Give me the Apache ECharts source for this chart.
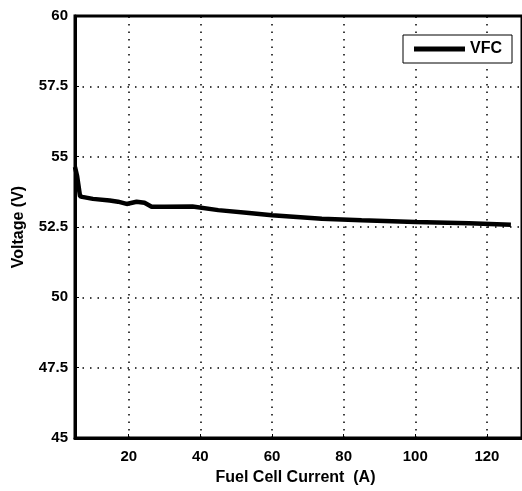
<!DOCTYPE html>
<html lang="en">
<head>
    <meta charset="utf-8">
    <script src="https://cdn.jsdelivr.net/npm/echarts@6/dist/echarts.min.js"></script>
    <style>
        html, body { margin: 0; padding: 0; background: #fff; }
        #chart { width: 522px; height: 491px; }
    </style>
</head>
<body>
<div id="chart"></div>
<script>
    // fuel cell current (A) and stack voltage (V)
    var current = [5, 5.6, 6.4, 7, 10, 14.7, 17, 19.4, 22.2, 24.4, 26.4, 30, 37.8, 45, 53.6, 60, 73.9, 85, 100, 115, 126.7];
    var voltage = [54.63, 54.3, 53.6, 53.57, 53.5, 53.44, 53.4, 53.32, 53.4, 53.36, 53.22, 53.22, 53.23, 53.1, 53.0, 52.92, 52.79, 52.74, 52.68, 52.63, 52.58];
    var xTicks = [20, 40, 60, 80, 100, 120];
    var seriesName = 'VFC';

    var pts = [];
    for (var i = 0; i < current.length; i++) {
        pts.push([current[i], voltage[i]]);
    }
    // vertical dotted grid at the x ticks (x axis starts at 5, not on a tick)
    var vGrid = xTicks.map(function (t) { return { xAxis: t }; });

    var font = 'Liberation Sans, Arial, sans-serif';
    var dotted = { color: '#000', width: 1.5, type: [1.5, 6] };
    var chart = echarts.init(document.getElementById('chart'));

    chart.setOption({
        animation: false,
        grid: {
            left: 75,
            top: 16,
            width: 449,   // right border falls just outside the picture, like the source
            height: 425,
            show: true,
            borderColor: '#000',
            borderWidth: 3
        },
        legend: {
            left: 403,
            top: 35,
            backgroundColor: '#fff',
            borderColor: '#000',
            borderWidth: 1,
            padding: [6, 10, 6, 11],
            itemWidth: 51,
            itemHeight: 5,
            icon: 'rect',
            data: [{ name: seriesName, itemStyle: { color: '#000' } }],
            textStyle: { fontFamily: font, fontWeight: 'bold', fontSize: 16, color: '#000' }
        },
        xAxis: {
            type: 'value',
            min: 5,
            max: 129.8,
            name: 'Fuel Cell Current  (A)',
            nameLocation: 'middle',
            nameGap: 32,
            nameTextStyle: { fontFamily: font, fontWeight: 'bold', fontSize: 16, color: '#000', padding: [0, 6, 0, 0] },
            axisLine: { show: true, onZero: false, lineStyle: { color: '#000', width: 3 } },
            axisTick: { show: true, inside: true, length: 4, customValues: xTicks, lineStyle: { color: '#000', width: 1 } },
            axisLabel: {
                customValues: xTicks,
                margin: 11,
                fontFamily: font, fontWeight: 'bold', fontSize: 15, color: '#000'
            },
            splitLine: { show: false }
        },
        yAxis: {
            type: 'value',
            min: 45,
            max: 60,
            interval: 2.5,
            name: 'Voltage (V)',
            nameLocation: 'middle',
            nameGap: 48,
            nameTextStyle: { fontFamily: font, fontWeight: 'bold', fontSize: 16, color: '#000' },
            axisLine: { show: true, onZero: false, lineStyle: { color: '#000', width: 3 } },
            axisTick: { show: true, inside: true, length: 4, lineStyle: { color: '#000', width: 1 } },
            axisLabel: {
                margin: 7,
                fontFamily: font, fontWeight: 'bold', fontSize: 15, color: '#000'
            },
            splitLine: { show: true, lineStyle: dotted }
        },
        series: [{
            name: seriesName,
            type: 'line',
            data: pts,
            symbol: 'none',
            lineStyle: { color: '#000', width: 4.5 },
            itemStyle: { color: '#000' },
            z: 3,
            markLine: {
                silent: true,
                symbol: 'none',
                label: { show: false },
                lineStyle: dotted,
                data: vGrid,
                z: 1
            }
        }]
    });
</script>
</body>
</html>
